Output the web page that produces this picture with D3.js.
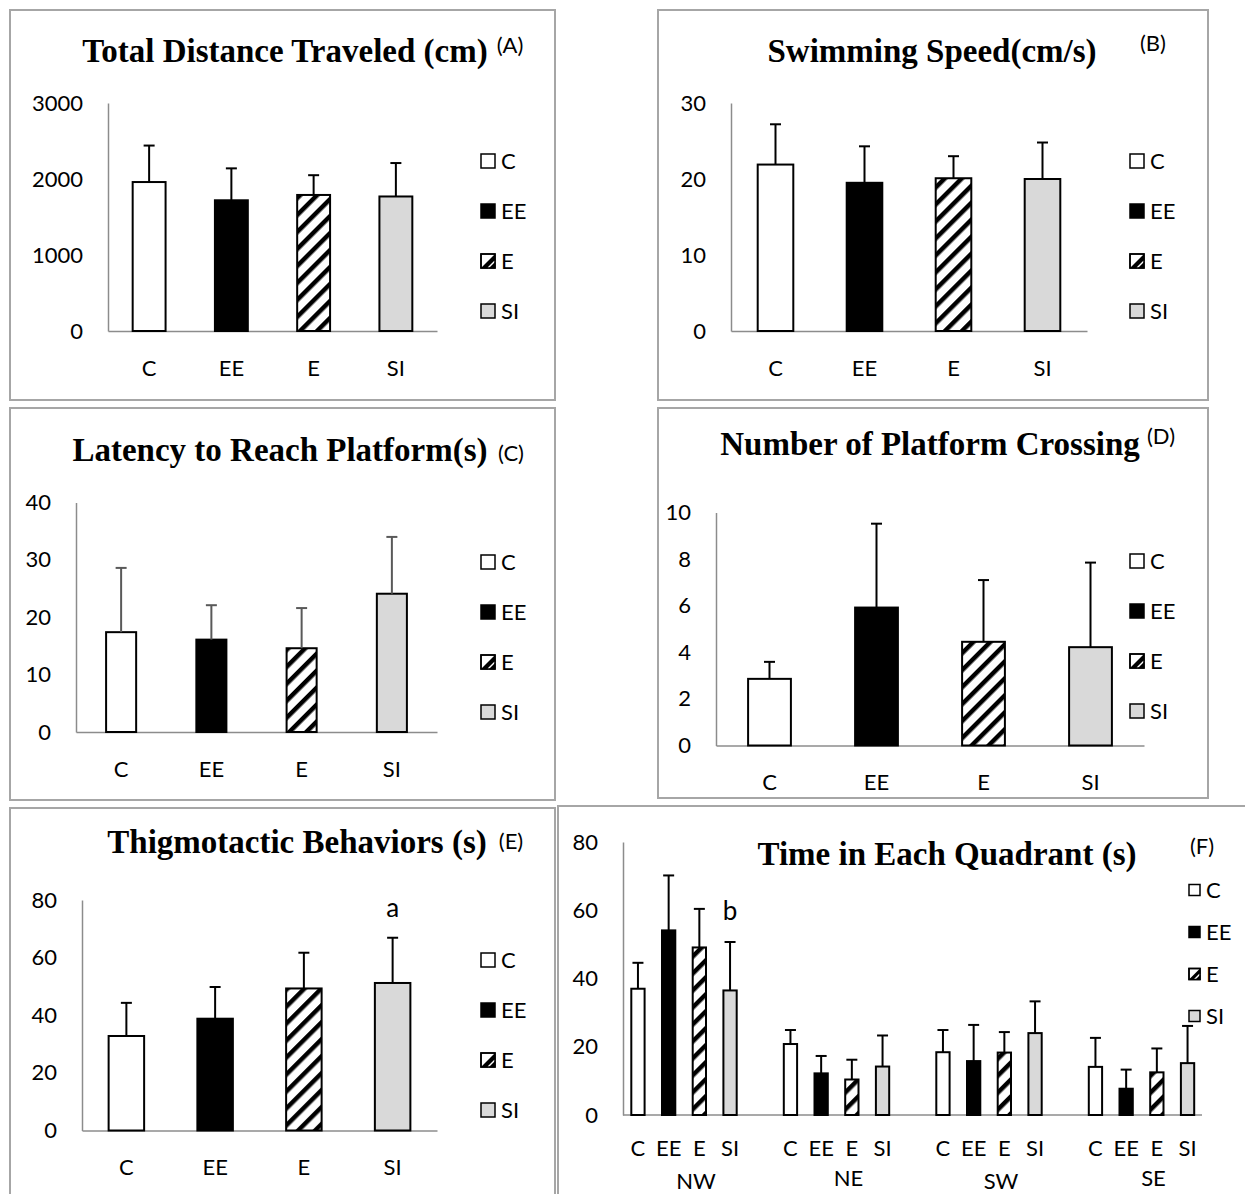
<!DOCTYPE html>
<html>
<head>
<meta charset="utf-8">
<script src="https://cdn.jsdelivr.net/npm/d3@7"></script>
<style>
  body { margin: 0; background: #fff; }
  svg { display: block; }
</style>
</head>
<body>
<div id="chart"></div>
<script>
// values (means and upper SEM bars)
const groups = ['C', 'EE', 'E', 'SI'];

const distMean = [1960, 1720, 1790, 1770];
const distErr = [480, 420, 260, 440];
const distTicks = [0, 1000, 2000, 3000];

const speedMean = [21.9, 19.5, 20.1, 20.0];
const speedErr = [5.3, 4.8, 2.9, 4.8];
const speedTicks = [0, 10, 20, 30];

const latencyMean = [17.4, 16.1, 14.6, 24.1];
const latencyErr = [11.2, 6.0, 7.0, 9.9];
const latencyTicks = [0, 10, 20, 30, 40];

const crossMean = [2.86, 5.92, 4.45, 4.22];
const crossErr = [0.73, 3.6, 2.65, 3.63];
const crossTicks = [0, 2, 4, 6, 8, 10];

const thigMean = [32.8, 38.8, 49.3, 51.2];
const thigErr = [11.5, 11.0, 12.4, 15.7];
const thigTicks = [0, 20, 40, 60, 80];

const quadrants = ['NW', 'NE', 'SW', 'SE'];
const quadMean = [
  [37.0, 54.1, 49.1, 36.5],
  [20.8, 12.2, 10.4, 14.2],
  [18.4, 15.8, 18.3, 24.0],
  [14.1, 7.7, 12.5, 15.2]
];
const quadErr = [
  [7.6, 16.1, 11.3, 14.2],
  [4.1, 5.1, 5.8, 9.1],
  [6.5, 10.6, 6.0, 9.3],
  [8.5, 5.6, 7.0, 10.9]
];
const quadTicks = [0, 20, 40, 60, 80];

const W = 1245, H = 1194;
const sans = 'Lato, "Open Sans", sans-serif';
const serif = '"Liberation Serif", "Times New Roman", serif';
const fills = { C: '#ffffff', EE: '#000000', E: 'url(#hatch)', SI: '#d9d9d9' };

const svg = d3.select('#chart').append('svg').attr('width', W).attr('height', H);
svg.append('rect').attr('width', W).attr('height', H).attr('fill', '#fff');

const pat = svg.append('defs').append('pattern')
  .attr('id', 'hatch')
  .attr('patternUnits', 'userSpaceOnUse')
  .attr('width', 12).attr('height', 12)
  .attr('patternTransform', 'rotate(45)');
pat.append('rect').attr('width', 12).attr('height', 12).attr('fill', '#fff');
pat.append('rect').attr('width', 4.5).attr('height', 12).attr('fill', '#000');

function drawLegend(g, lx, ly, step, size, fontSize) {
  groups.forEach((k, i) => {
    const yy = ly + i * step - size / 2;
    g.append('rect').attr('x', lx).attr('y', yy).attr('width', size).attr('height', size)
      .attr('fill', k === 'E' ? '#fff' : fills[k]).attr('stroke', '#000').attr('stroke-width', 1.5);
    if (k === 'E') {
      g.append('path')
        .attr('d', `M${lx + size},${yy} L${lx + size},${yy + size} L${lx},${yy + size} Z`)
        .attr('fill', '#000');
      g.append('line')
        .attr('x1', lx + size * 0.5).attr('y1', yy + size)
        .attr('x2', lx + size).attr('y2', yy + size * 0.5)
        .attr('stroke', '#fff').attr('stroke-width', 1.5);
      g.append('rect').attr('x', lx).attr('y', yy).attr('width', size).attr('height', size)
        .attr('fill', 'none').attr('stroke', '#000').attr('stroke-width', 1.5);
    }
    g.append('text').attr('x', lx + size + 6).attr('y', ly + i * step)
      .attr('dy', '0.36em').attr('font-family', sans).attr('font-size', fontSize).text(k);
  });
}

function errorBar(g, cx, yBase, yTop, color) {
  g.append('line').attr('x1', cx).attr('x2', cx).attr('y1', yBase).attr('y2', yTop)
    .attr('stroke', color).attr('stroke-width', 2);
  g.append('line').attr('x1', cx - 5.5).attr('x2', cx + 5.5).attr('y1', yTop).attr('y2', yTop)
    .attr('stroke', color).attr('stroke-width', 2);
}

function styleAxis(sel) {
  sel.select('.domain').attr('stroke', '#8c8c8c').attr('stroke-width', 1.5);
  sel.selectAll('text').attr('font-family', sans).attr('font-size', 22).attr('fill', '#000');
}

function barPanel(p) {
  const g = svg.append('g');
  g.append('rect')
    .attr('x', p.box[0]).attr('y', p.box[1])
    .attr('width', p.box[2] - p.box[0]).attr('height', p.box[3] - p.box[1])
    .attr('fill', 'none').attr('stroke', '#a6a6a6').attr('stroke-width', 2);

  const x = d3.scaleBand().domain(groups).range([p.ax, p.axEnd])
    .paddingInner(p.gap).paddingOuter(p.gap / 2);
  const y = d3.scaleLinear().domain([0, d3.max(p.ticks)]).range([p.y0, p.y1]);

  g.append('g').attr('transform', `translate(${p.ax},0)`)
    .call(d3.axisLeft(y).tickValues(p.ticks).tickSize(0).tickSizeOuter(0).tickPadding(25).tickFormat(d3.format('d')))
    .call(styleAxis);

  g.append('g').attr('transform', `translate(0,${p.y0})`)
    .call(d3.axisBottom(x).tickSize(0).tickSizeOuter(0).tickPadding(29))
    .call(styleAxis);

  groups.forEach((k, i) => {
    g.append('rect')
      .attr('x', x(k)).attr('y', y(p.means[i]))
      .attr('width', x.bandwidth()).attr('height', y(0) - y(p.means[i]))
      .attr('fill', fills[k]).attr('stroke', '#000').attr('stroke-width', 2);
    errorBar(g, x(k) + x.bandwidth() / 2, y(p.means[i]), y(p.means[i] + p.errs[i]), p.errColor || '#000');
  });

  g.append('text').attr('x', p.titleX).attr('y', p.titleY).attr('text-anchor', 'middle')
    .attr('font-family', serif).attr('font-weight', 'bold').attr('font-size', 33).text(p.title);
  g.append('text').attr('x', p.tagX).attr('y', p.tagY).attr('text-anchor', 'middle')
    .attr('font-family', sans).attr('font-size', 22).text(p.tag);

  if (p.mark) {
    g.append('text').attr('x', x('SI') + x.bandwidth() / 2).attr('y', p.markY).attr('text-anchor', 'middle')
      .attr('font-family', sans).attr('font-size', 26).text(p.mark);
  }

  drawLegend(g, p.legendX, p.legendY, 50, 14, 22);
}

barPanel({
  box: [10, 10, 555, 400], ax: 108, axEnd: 437, y0: 331, y1: 103, gap: 0.6,
  ticks: distTicks, means: distMean, errs: distErr,
  title: 'Total Distance Traveled (cm)', titleX: 285, titleY: 62, tag: '(A)', tagX: 510, tagY: 53,
  legendX: 481, legendY: 161
});

barPanel({
  box: [658, 10, 1208, 400], ax: 731, axEnd: 1087, y0: 331, y1: 103, gap: 0.6,
  ticks: speedTicks, means: speedMean, errs: speedErr,
  title: 'Swimming Speed(cm/s)', titleX: 932, titleY: 62, tag: '(B)', tagX: 1153, tagY: 51,
  legendX: 1130, legendY: 161
});

barPanel({
  box: [10, 408, 555, 800], ax: 76, axEnd: 437, y0: 732, y1: 502.5, gap: 0.667,
  ticks: latencyTicks, means: latencyMean, errs: latencyErr, errColor: '#595959',
  title: 'Latency to Reach Platform(s)', titleX: 280, titleY: 461, tag: '(C)', tagX: 511, tagY: 461,
  legendX: 481, legendY: 562
});

barPanel({
  box: [658, 408, 1208, 798], ax: 716, axEnd: 1144, y0: 745.5, y1: 512.5, gap: 0.6,
  ticks: crossTicks, means: crossMean, errs: crossErr,
  title: 'Number of Platform Crossing', titleX: 930, titleY: 455, tag: '(D)', tagX: 1161, tagY: 444,
  legendX: 1130, legendY: 561
});

barPanel({
  box: [10, 808, 555, 1210], ax: 82, axEnd: 437, y0: 1130.5, y1: 900, gap: 0.6,
  ticks: thigTicks, means: thigMean, errs: thigErr,
  title: 'Thigmotactic Behaviors (s)', titleX: 297, titleY: 853, tag: '(E)', tagX: 511, tagY: 849,
  legendX: 481, legendY: 960, mark: 'a', markY: 917
});

// panel F: grouped bars per quadrant
(function () {
  const g = svg.append('g');
  g.append('rect').attr('x', 558).attr('y', 806).attr('width', 720).attr('height', 420)
    .attr('fill', 'none').attr('stroke', '#a6a6a6').attr('stroke-width', 2);

  const ax = 623, axEnd = 1202, y0 = 1115, y1 = 842;
  const x0 = d3.scaleBand().domain(quadrants).range([607.75, 1217.75]);
  const x1 = d3.scaleBand().domain(groups).range([-61.4, 61.4]).paddingInner(0.567).paddingOuter(0.2835);
  const y = d3.scaleLinear().domain([0, d3.max(quadTicks)]).range([y0, y1]);

  g.append('g').attr('transform', `translate(${ax},0)`)
    .call(d3.axisLeft(y).tickValues(quadTicks).tickSize(0).tickSizeOuter(0).tickPadding(25))
    .call(styleAxis);
  g.append('line').attr('x1', ax).attr('x2', axEnd).attr('y1', y0).attr('y2', y0)
    .attr('stroke', '#8c8c8c').attr('stroke-width', 1.5);

  quadrants.forEach((q, qi) => {
    const gc = x0(q) + x0.bandwidth() / 2;
    groups.forEach((k, i) => {
      const bx = gc + x1(k);
      const m = quadMean[qi][i];
      g.append('rect').attr('x', bx).attr('y', y(m))
        .attr('width', x1.bandwidth()).attr('height', y(0) - y(m))
        .attr('fill', fills[k]).attr('stroke', '#000').attr('stroke-width', 2);
      errorBar(g, bx + x1.bandwidth() / 2, y(m), y(m + quadErr[qi][i]), '#000');
      g.append('text').attr('x', bx + x1.bandwidth() / 2).attr('y', y0 + 41)
        .attr('text-anchor', 'middle').attr('font-family', sans).attr('font-size', 22).text(k);
    });
    g.append('text').attr('x', gc + 12).attr('y', y0 + (qi % 2 === 0 ? 74 : 71))
      .attr('text-anchor', 'middle').attr('font-family', sans).attr('font-size', 22).text(q);
  });

  const nwCenter = x0('NW') + x0.bandwidth() / 2;
  g.append('text').attr('x', nwCenter + x1('SI') + x1.bandwidth() / 2).attr('y', 920)
    .attr('text-anchor', 'middle').attr('font-family', sans).attr('font-size', 26).text('b');

  g.append('text').attr('x', 947).attr('y', 865).attr('text-anchor', 'middle')
    .attr('font-family', serif).attr('font-weight', 'bold').attr('font-size', 33).text('Time in Each Quadrant (s)');
  g.append('text').attr('x', 1202).attr('y', 854).attr('text-anchor', 'middle')
    .attr('font-family', sans).attr('font-size', 22).text('(F)');

  drawLegend(g, 1189, 890, 42, 11, 22);
})();
</script>
</body>
</html>
